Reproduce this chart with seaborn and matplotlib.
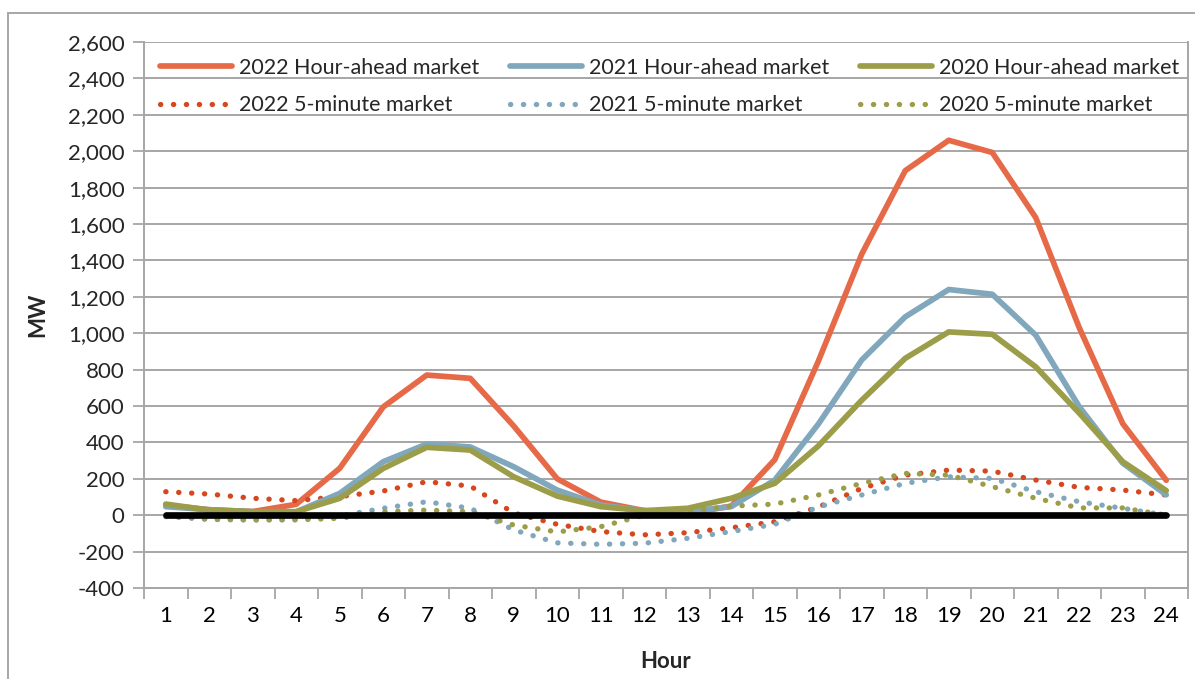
import numpy as np
import pandas as pd
import matplotlib
matplotlib.use("Agg")
import matplotlib.pyplot as plt
import matplotlib.ticker as mticker
from matplotlib.patches import Rectangle
import seaborn as sns

hours = list(range(1, 25))

# hour-ahead market, MW
ha_2022 = [55, 30, 20, 60, 258, 595, 770, 752, 490, 200, 72, 25, 10, 50, 305, 845, 1435, 1893, 2060, 1993, 1635, 1030, 503, 192]
ha_2021 = [47, 30, 19, 19, 120, 294, 391, 375, 266, 138, 56, 25, 20, 47, 193, 500, 853, 1090, 1240, 1214, 989, 596, 286, 112]
ha_2020 = [61, 28, 19, 19, 93, 257, 373, 358, 211, 105, 47, 25, 38, 93, 175, 380, 632, 862, 1007, 994, 815, 561, 294, 135]

# 5-minute market, MW
fm_2022 = [129, 116, 93, 80, 102, 133, 184, 160, 12, -50, -90, -108, -96, -69, -36, 45, 147, 220, 248, 242, 193, 153, 138, 111]
fm_2021 = [-8, -23, -26, -23, -4, 38, 74, 38, -81, -152, -160, -154, -127, -90, -50, 45, 111, 175, 211, 202, 129, 74, 38, 0]
fm_2020 = [0, -23, -26, -26, -17, 19, 28, 19, -54, -92, -63, 0, 19, 50, 61, 111, 175, 230, 220, 157, 93, 40, 40, 0]

zero = [0] * 24

c_orange = "#E66A48"
c_blue = "#80A7BC"
c_olive = "#9C9D48"
c_red = "#D7471F"

sns.set_style("white")
plt.rcParams["font.family"] = ["Lato", "DejaVu Sans"]
fs = 16

fig = plt.figure(figsize=(11.95, 6.79), dpi=100)
ax = fig.add_axes([144 / 1195, 1 - 588 / 679, (1188 - 144) / 1195, (588 - 42) / 679])

df = pd.DataFrame({"Hour": hours})
solid = dict(linewidth=4.1, solid_capstyle="round", solid_joinstyle="round")
dots = dict(linewidth=3.8, linestyle=(0, (0.05, 2.4)), dash_capstyle="round")

sns.lineplot(x=df["Hour"], y=ha_2022, color=c_orange, label="2022 Hour-ahead market", ax=ax, **solid)
sns.lineplot(x=df["Hour"], y=fm_2022, color=c_red, label="2022 5-minute market", ax=ax, **dots)
sns.lineplot(x=df["Hour"], y=ha_2021, color=c_blue, label="2021 Hour-ahead market", ax=ax, **solid)
sns.lineplot(x=df["Hour"], y=fm_2021, color=c_blue, label="2021 5-minute market", ax=ax, **dots)
sns.lineplot(x=df["Hour"], y=ha_2020, color=c_olive, label="2020 Hour-ahead market", ax=ax, **solid)
sns.lineplot(x=df["Hour"], y=fm_2020, color=c_olive, label="2020 5-minute market", ax=ax, **dots)
sns.lineplot(x=df["Hour"], y=zero, color="black", linewidth=4.8, solid_capstyle="round", ax=ax, legend=False)

ax.set_xlim(0.5, 24.5)
ax.set_ylim(-400, 2600)
ax.yaxis.set_major_locator(mticker.MultipleLocator(200))
ax.yaxis.set_major_formatter(mticker.FuncFormatter(lambda v, p: f"{int(v):,}"))
ax.set_xticks(hours)
ax.set_xticks(np.arange(0.5, 25, 1), minor=True)
ax.tick_params(axis="x", which="major", length=0, pad=13, labelsize=fs, colors="black")
ax.tick_params(axis="x", which="minor", length=8, width=1.3, color="#A6A6A6", direction="out")
ax.tick_params(axis="y", length=8, width=1.3, color="#A6A6A6", direction="out", labelsize=fs, pad=6)
ax.tick_params(axis="y", left=True)
ax.tick_params(axis="x", which="minor", bottom=True)

ax.grid(axis="y", color="#A6A6A6", linewidth=1.4)
ax.set_axisbelow(True)
for s in ["left", "right", "bottom"]:
    ax.spines[s].set_color("#A6A6A6")
    ax.spines[s].set_linewidth(1.4)
ax.spines["top"].set_visible(False)

ax.set_xlabel("Hour", fontsize=fs, fontweight="bold", labelpad=18)
ax.set_ylabel("MW", fontsize=fs, fontweight="bold", labelpad=14)

ax.legend(ncol=3, loc="upper left", bbox_to_anchor=(16 / 1044, 0.971), frameon=False,
          borderaxespad=0, borderpad=0,
          handlelength=3.35, handletextpad=0.3, columnspacing=1.45, labelspacing=0.82,
          fontsize=15.5)

fig.patches.append(Rectangle((8 / 1195, -0.05), 1.2, 1 - 13 / 679 + 0.05, transform=fig.transFigure,
                             fill=False, edgecolor="#A6A6A6", linewidth=1.4))

fig.savefig("out.png", dpi=100)
